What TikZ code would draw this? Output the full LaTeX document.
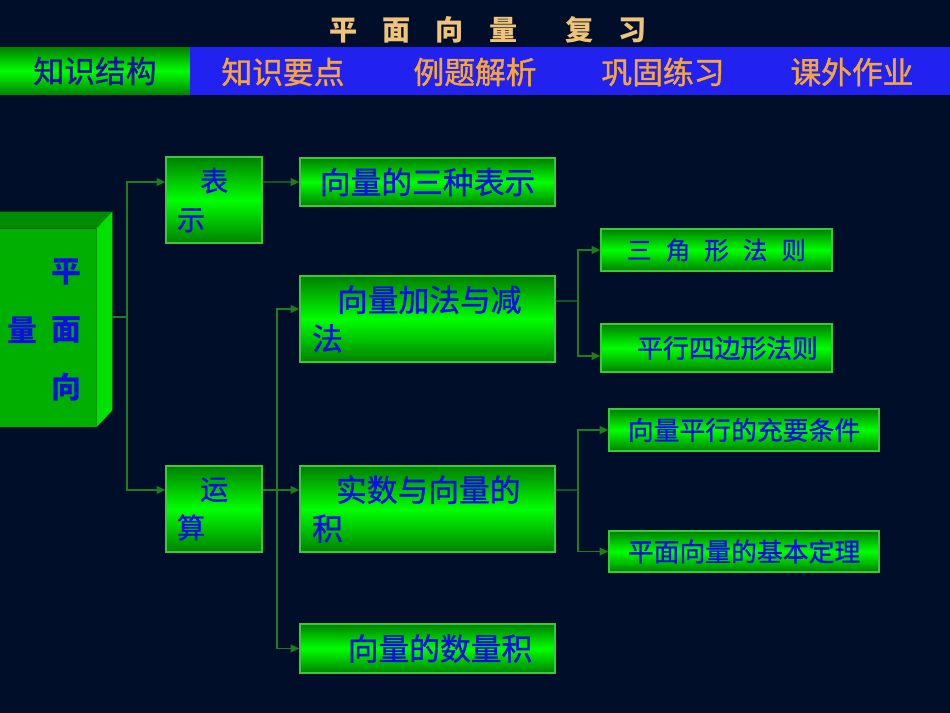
\documentclass[tikz,border=0pt]{standalone}
\usepackage{fontspec}
\usepackage{xcolor}
\usepackage{tikz}
\usetikzlibrary{arrows.meta}
\newfontfamily\cjk{Noto Sans CJK SC}
\newfontfamily\cjkb[FakeBold=1.2]{Noto Sans CJK SC}

\definecolor{bgnavy}{RGB}{0,14,42}
\definecolor{barblue}{RGB}{34,34,240}
\definecolor{txtblue}{RGB}{16,16,220}
\definecolor{menublue}{RGB}{20,20,150}
\definecolor{boxline}{RGB}{60,200,60}
\definecolor{linkgreen}{RGB}{30,125,30}
\definecolor{darkgreen}{RGB}{0,128,0}
\definecolor{topgreen}{RGB}{0,140,0}
\definecolor{frontgreen}{RGB}{0,176,0}
\definecolor{sidegreen}{RGB}{0,225,0}
\definecolor{titleorange}{RGB}{240,196,120}
\definecolor{menuorange}{RGB}{245,165,60}

\tikzset{
  greenbox/.style={draw=boxline, line width=0.8pt, top color=darkgreen, bottom color=darkgreen,
    middle color=green, inner sep=0pt, text=txtblue, font=\cjkb\fontsize{17.5pt}{22pt}\selectfont},
  link/.style={draw=linkgreen, line width=0.8pt, -{Triangle[length=5pt,width=4.5pt]}},
  menu/.style={text=menuorange, font=\cjkb\fontsize{17.5pt}{20pt}\selectfont},
  bigtxt/.style={text=txtblue, font=\cjk\bfseries\fontsize{17pt}{20pt}\selectfont},
}

\begin{document}
\begin{tikzpicture}[x=0.02cm, y=-0.02cm]
            \fill[bgnavy] (0,0) rectangle (950,713);
            \useasboundingbox (0,0) rectangle (950,713);
            \clip (0,0) rectangle (950,713);

            % title and menu bar
            \node[text=titleorange, font=\cjk\bfseries\fontsize{16pt}{18pt}\selectfont] (title) at (488,30)
                {平\hspace{0.9em}面\hspace{0.9em}向\hspace{0.9em}量\hspace{1.7em}复\hspace{0.9em}习};
            \fill[barblue] (190,47) rectangle (950,95);
            \node[minimum width=3.8cm, minimum height=0.96cm, inner sep=0pt, top color=darkgreen,
                bottom color=darkgreen, middle color=green, text=menublue,
                font=\cjkb\fontsize{17.5pt}{20pt}\selectfont] (m1) at (95,71) {知识结构};
            \node[menu] (m2) at (283,72) {知识要点};
            \node[menu] (m3) at (475,72) {例题解析};
            \node[menu] (m4) at (663,72) {巩固练习};
            \node[menu] (m5) at (852,72) {课外作业};

            % the block on the left
            \node[fill=frontgreen, minimum width=2.32cm, minimum height=3.96cm, inner sep=0pt] (pmxl) at (38,328) {};
            \fill[topgreen] (pmxl.north west) -- ++(16,-17) -- ([shift={(16,-17)}]pmxl.north east) -- (pmxl.north east) -- cycle;
            \fill[sidegreen] (pmxl.north east) -- ++(16,-17) -- ([shift={(16,-17)}]pmxl.south east) -- (pmxl.south east) -- cycle;
            \node[bigtxt] (c1) at (66,272) {平};
            \node[bigtxt] (c2) at (66,330) {面};
            \node[bigtxt] (c3) at (66,387) {向};
            \node[bigtxt] (c4) at (22,330) {量};
            \coordinate (pmxl-r) at (112,317);
            \coordinate (j1) at (127,317);

            % boxes
            \node[greenbox, minimum width=1.92cm, minimum height=1.72cm, text width=1.48cm, align=left,
                font=\cjkb\fontsize{16pt}{22pt}\selectfont] (bs) at (214,200) {\hspace*{0.46cm}表\\示};
            \node[greenbox, minimum width=1.92cm, minimum height=1.72cm, text width=1.48cm, align=left,
                font=\cjkb\fontsize{16pt}{22pt}\selectfont] (ys) at (214,509) {\hspace*{0.46cm}运\\算};
            \node[greenbox, minimum width=5.1cm, minimum height=0.96cm] (sz) at (427.5,182) {向量的三种表示};
            \node[greenbox, minimum width=5.1cm, minimum height=1.72cm, text width=4.62cm, align=left] (jf) at (427.5,319)
                {\hspace*{0.5cm}向量加法与减\\法};
            \node[greenbox, minimum width=5.1cm, minimum height=1.72cm, text width=4.62cm, align=left] (ss) at (427.5,509)
                {\hspace*{0.48cm}实数与向量的\\积};
            \node[greenbox, minimum width=5.1cm, minimum height=0.98cm] (sl) at (427.5,648.5) {\hspace*{0.5cm}向量的数量积};
            \node[greenbox, minimum width=4.62cm, minimum height=0.84cm, font=\cjkb\fontsize{14pt}{16pt}\selectfont] (sj) at (716.5,250)
                {三\hspace{0.28cm}角\hspace{0.28cm}形\hspace{0.28cm}法\hspace{0.28cm}则};
            \node[greenbox, minimum width=4.62cm, minimum height=0.96cm, font=\cjkb\fontsize{14.7pt}{16pt}\selectfont] (px) at (716.5,348)
                {\hspace*{0.44cm}平行四边形法则};
            \node[greenbox, minimum width=5.4cm, minimum height=0.84cm, font=\cjkb\fontsize{14.7pt}{16pt}\selectfont] (cy) at (744,430)
                {向量平行的充要条件};
            \node[greenbox, minimum width=5.4cm, minimum height=0.82cm, font=\cjkb\fontsize{14.7pt}{16pt}\selectfont] (dl) at (744,551.5)
                {平面向量的基本定理};

            % connectors
            \draw[draw=linkgreen, line width=0.8pt] (pmxl-r) -- (j1);
            \draw[link] (j1) |- ([yshift=0.36cm]bs.west); % block - 表示
            \draw[link] (j1) |- ([yshift=0.38cm]ys.west); % block - 运算
            \draw[link] ([yshift=0.36cm]bs.east) -- (sz.west); % 表示 - 三种表示
            \coordinate (j2) at (277,490);
            \draw[link] ([yshift=0.38cm]ys.east) -- ([yshift=0.38cm]ss.west); % 运算 - 实数
            \draw[link] (j2) |- ([yshift=0.2cm]jf.west); % 运算 - 加法
            \draw[link] (j2) |- (sl.west); % 运算 - 数量积
            \coordinate (j3) at (578,301);
            \draw[draw=linkgreen, line width=0.8pt] ([yshift=0.36cm]jf.east) -- (j3);
            \draw[link] (j3) |- (sj.west); % 加法 - 三角形
            \draw[link] (j3) |- ([yshift=-0.16cm]px.west); % 加法 - 平行四边形
            \coordinate (j4) at (578,490);
            \draw[draw=linkgreen, line width=0.8pt] ([yshift=0.38cm]ss.east) -- (j4);
            \draw[link] (j4) |- (cy.west); % 实数 - 充要条件
            \draw[link] (j4) |- (dl.west); % 实数 - 基本定理
        \end{tikzpicture}
\end{document}
